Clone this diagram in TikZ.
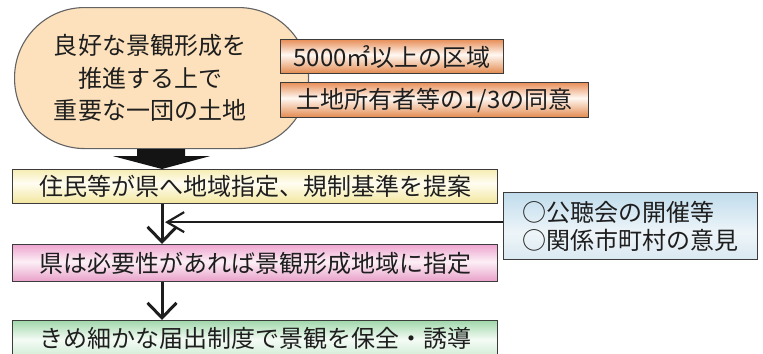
\documentclass[tikz,border=0pt]{standalone}
\usepackage{fontspec}
\setmainfont{Noto Sans CJK JP}
\usetikzlibrary{arrows.meta,calc}
\definecolor{peach}{HTML}{FCE1BC}
\definecolor{edge}{HTML}{3C3C3C}
\definecolor{txt}{HTML}{1E1E1E}
\definecolor{orT}{HTML}{E8905A}
\definecolor{orB}{HTML}{E2884C}
\definecolor{orM}{HTML}{FFF8F2}
\definecolor{yeT}{HTML}{F6EDB4}
\definecolor{yeM}{HTML}{FFFDF2}
\definecolor{yeB}{HTML}{F2E69C}
\definecolor{piT}{HTML}{EEA6CF}
\definecolor{piM}{HTML}{FCEFF6}
\definecolor{piB}{HTML}{E89FC8}
\definecolor{grT}{HTML}{A2D8AC}
\definecolor{grM}{HTML}{F4FBF5}
\definecolor{grB}{HTML}{D2EDD6}
\definecolor{blT}{HTML}{C0DCEC}
\definecolor{blM}{HTML}{EEF5F9}
\definecolor{blB}{HTML}{D9E8F0}
\pgfdeclareverticalshading{orsh}{100bp}{color(0bp)=(orB); color(25bp)=(orB); color(53bp)=(orM); color(75bp)=(orT); color(100bp)=(orT)}
\pgfdeclareverticalshading{yesh}{100bp}{color(0bp)=(yeB); color(25bp)=(yeB); color(55bp)=(yeM); color(75bp)=(yeT); color(100bp)=(yeT)}
\pgfdeclareverticalshading{pish}{100bp}{color(0bp)=(piB); color(25bp)=(piB); color(52bp)=(piM); color(75bp)=(piT); color(100bp)=(piT)}
\pgfdeclareverticalshading{grsh}{100bp}{color(0bp)=(grB); color(25bp)=(grB); color(48bp)=(grM); color(75bp)=(grT); color(100bp)=(grT)}
\pgfdeclareverticalshading{blsh}{100bp}{color(0bp)=(blB); color(25bp)=(blB); color(45bp)=(blM); color(75bp)=(blT); color(100bp)=(blT)}
\begin{document}
\begin{tikzpicture}[x=1bp,y=1bp,
  every node/.style={text=txt},
  jfont/.style={font=\fontsize{24bp}{32.5bp}\selectfont},
  boxbase/.style={draw=edge, line width=1.3bp, anchor=north west, inner sep=0pt, jfont},
  orbox/.style={boxbase, shading=orsh},
  yebox/.style={boxbase, shading=yesh},
  pibox/.style={boxbase, shading=pish},
  grbox/.style={boxbase, shading=grsh},
  blbox/.style={boxbase, shading=blsh},
  conn/.style={draw=txt, line width=3bp, -{Straight Barb[length=15bp,width=29bp]}},
  feed/.style={draw=txt, line width=2.2bp, -{Straight Barb[length=17bp,width=20bp]}}
]
\useasboundingbox (0,0) rectangle (763,-353);
% stadium
\node[draw=edge!80, line width=1.1bp, fill=peach, rounded corners=70bp,
  minimum width=294bp, minimum height=141bp, anchor=north west] (land) at (14,-7) {};
\node[jfont, align=center] (landtxt) at (150,-78) {良好な景観形成を\\推進する上で\\重要な一団の土地};
% conditions
\node[orbox, minimum width=223bp, minimum height=34bp] (area) at (280,-39) {5000㎡以上の区域};
\node[orbox, minimum width=308bp, minimum height=35bp] (agree) at (280,-82) {土地所有者等の1/3の同意};
% flow boxes
\node[yebox, minimum width=485bp, minimum height=34bp] (propose) at (12,-169) {住民等が県へ地域指定、規制基準を提案};
\node[pibox, minimum width=485bp, minimum height=37bp] (designate) at (12,-244) {県は必要性があれば景観形成地域に指定};
\node[grbox, minimum width=485bp, minimum height=35bp] (guide) at (12,-320) {きめ細かな届出制度で景観を保全・誘導};
\node[blbox, minimum width=254bp, minimum height=67bp] (hear) at (503,-192) {};
\node[anchor=west, align=left, font=\fontsize{24bp}{28bp}\selectfont] (heartxt) at (519,-226) {○公聴会の開催等\\○関係市町村の意見};
% big arrow
\coordinate (ax) at (162,0);
\fill[black!92] ($(land.south -| ax)+(-25,0)$) -- ($(land.south -| ax)+(23,0)$)
  -- ($(land.south -| ax)+(23,-7)$) -- ($(land.south -| ax)+(48,-7)$)
  -- (propose.north -| ax) -- ($(land.south -| ax)+(-49,-7)$)
  -- ($(land.south -| ax)+(-25,-7)$) -- cycle;
% connectors
\draw[conn] (propose.south -| ax) -- (designate.north -| ax);
\draw[conn] (designate.south -| ax) -- (guide.north -| ax);
\coordinate (fb) at ($(hear.west)+(0,4)$);
\coordinate (fbend) at (165,0);
\draw[feed] (fb) -- (fb -| fbend);
\end{tikzpicture}
\end{document}
